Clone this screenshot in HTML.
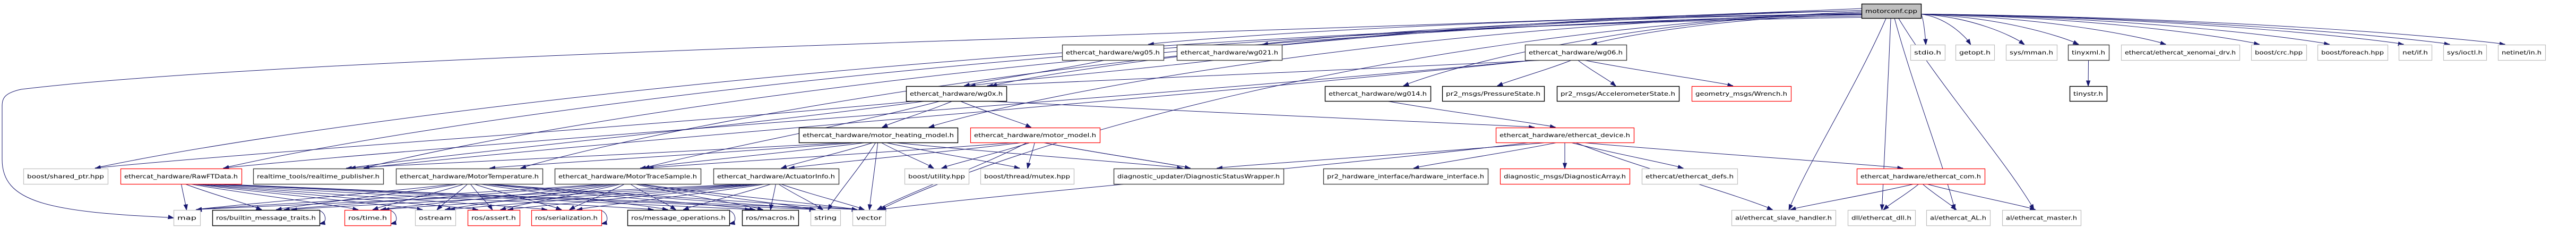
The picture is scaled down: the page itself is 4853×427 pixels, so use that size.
<!DOCTYPE html>
<html><head><meta charset="utf-8"><style>
html,body{margin:0;padding:0;background:#fff;}
svg{display:block;}
text{font-family:"DejaVu Sans","Liberation Sans",sans-serif;font-size:11px;fill:#000;}
</style></head><body>
<svg id="g" width="4853" height="427" xmlns="http://www.w3.org/2000/svg">
<g id="edges" fill="none" stroke="#191970" stroke-width="1"></g>
<g id="arrows" fill="#191970" stroke="#191970"></g>
<g id="nodes"></g>
</svg>
<script>
var R=[0,[7,34],[84,113],[162,190],[240,268],[317,346],[395,424]];
var N={
mc:[3507,3619,1,'motorconf.cpp','c'],
wg05:[2001,2192,2,'ethercat_hardware/wg05.h','d'],
wg021:[2217,2415,2,'ethercat_hardware/wg021.h','d'],
wg06:[2873,3064,2,'ethercat_hardware/wg06.h','d'],
stdio:[3599,3664,2,'stdio.h','g'],
getopt:[3684,3757,2,'getopt.h','g'],
mman:[3779,3875,2,'sys/mman.h','g'],
tinyxml:[3896,3973,2,'tinyxml.h','d'],
xeno:[3996,4219,2,'ethercat/ethercat_xenomai_drv.h','g'],
crc:[4241,4345,2,'boost/crc.hpp','g'],
foreach:[4366,4498,2,'boost/foreach.hpp','g'],
netif:[4519,4581,2,'net/if.h','g'],
ioctl:[4603,4684,2,'sys/ioctl.h','g'],
netin:[4706,4795,2,'netinet/in.h','g'],
wg0x:[1707,1896,3,'ethercat_hardware/wg0x.h','b'],
wg014:[2496,2695,3,'ethercat_hardware/wg014.h','b'],
press:[2717,2909,3,'pr2_msgs/PressureState.h','b'],
accel:[2933,3163,3,'pr2_msgs/AccelerometerState.h','b'],
wrench:[3187,3374,3,'geometry_msgs/Wrench.h','r'],
tinystr:[3899,3969,3,'tinystr.h','b'],
mhm:[1505,1804,4,'ethercat_hardware/motor_heating_model.h','b'],
mm:[1828,2072,4,'ethercat_hardware/motor_model.h','r'],
ecd:[2818,3078,4,'ethercat_hardware/ethercat_device.h','r'],
sptr:[44,203,5,'boost/shared_ptr.hpp','g'],
raw:[227,455,5,'ethercat_hardware/RawFTData.h','r'],
rtp:[477,722,5,'realtime_tools/realtime_publisher.h','d'],
mt:[746,1022,5,'ethercat_hardware/MotorTemperature.h','d'],
mts:[1045,1320,5,'ethercat_hardware/MotorTraceSample.h','d'],
ai:[1344,1580,5,'ethercat_hardware/ActuatorInfo.h','d'],
util:[1704,1825,5,'boost/utility.hpp','g'],
mutex:[1847,2023,5,'boost/thread/mutex.hpp','g'],
dsw:[2098,2418,5,'diagnostic_updater/DiagnosticStatusWrapper.h','d'],
hwi:[2493,2803,5,'pr2_hardware_interface/hardware_interface.h','d'],
da:[2826,3070,5,'diagnostic_msgs/DiagnosticArray.h','r'],
defs:[3093,3273,5,'ethercat/ethercat_defs.h','g'],
com:[3498,3739,5,'ethercat_hardware/ethercat_com.h','r'],
map:[327,377,6,'map','g'],
bmt:[400,602,6,'ros/builtin_message_traits.h','b'],
time:[649,736,6,'ros/time.h','r'],
ost:[782,858,6,'ostream','g'],
assert:[881,979,6,'ros/assert.h','r'],
ser:[1001,1133,6,'ros/serialization.h','r'],
mo:[1182,1374,6,'ros/message_operations.h','b'],
mac:[1398,1504,6,'ros/macros.h','b'],
str:[1527,1583,6,'string','g'],
vec:[1606,1668,6,'vector','g'],
slave:[3262,3458,6,'al/ethercat_slave_handler.h','g'],
dll:[3481,3608,6,'dll/ethercat_dll.h','g'],
al:[3629,3749,6,'al/ethercat_AL.h','g'],
mas:[3772,3920,6,'al/ethercat_master.h','g']
};
var E=[
['mc','wg0x'],['mc','wg05'],['mc','wg021'],['mc','wg06'],['mc','wg014'],['mc','mhm'],['mc','rtp'],['mc','raw'],['mc','sptr'],['mc','mt'],
['mc','slave'],['mc','dll'],['mc','al'],['mc','mas'],['mc','stdio'],['mc','getopt'],['mc','mman'],['mc','tinyxml'],['mc','xeno'],['mc','crc'],['mc','foreach'],['mc','netif'],['mc','ioctl'],['mc','netin'],['mc','vec'],
['wg05','wg0x'],['wg021','wg0x'],['wg06','wg0x'],['wg06','press'],['wg06','accel'],['wg06','wrench'],['wg06','raw'],['wg06','rtp'],['wg014','ecd'],
['wg0x','mhm'],['wg0x','mm'],['wg0x','ecd'],['wg0x','mts'],['wg0x','rtp'],['wg0x','sptr'],
['mhm','ai'],['mhm','mt'],['mhm','util'],['mhm','mutex'],['mhm','dsw'],['mhm','str'],['mhm','vec'],['mhm','rtp'],['mhm','mts'],
['mm','util'],['mm','mutex'],['mm','dsw'],['mm','vec'],['mm','ai'],['mm','mts'],['mm','dsw'],
['ecd','hwi'],['ecd','da'],['ecd','defs'],['ecd','com'],['ecd','slave'],['ecd','dsw'],['ecd','vec'],
['com','slave'],['com','dll'],['com','al'],['com','mas'],['tinyxml','tinystr']
];
var msgs=['raw','mt','mts','ai'],tg=['map','bmt','time','ost','assert','ser','mo','mac','str','vec'];
msgs.forEach(function(s){tg.forEach(function(t){E.push([s,t]);});});
var NS='http://www.w3.org/2000/svg';
function el(n,a,p){var e=document.createElementNS(NS,n);for(var k in a)e.setAttribute(k,a[k]);p.appendChild(e);return e;}
var eg=document.getElementById('edges'),ag=document.getElementById('arrows'),ng=document.getElementById('nodes');
function cx(n){return (N[n][0]+N[n][1])/2;}
function arrow(x,y,dx,dy){var l=Math.sqrt(dx*dx+dy*dy)||1;dx/=l;dy/=l;var bx=x-dx*10,by=y-dy*10,px=-dy*3.5,py=dx*3.5;
el('polygon',{points:x+','+y+' '+(bx+px)+','+(by+py)+' '+(bx-px)+','+(by-py)},ag);}
var li=0;
E.forEach(function(e){var s=N[e[0]],t=N[e[1]];
var sx=cx(e[0]),sy=R[s[2]][1],tx=cx(e[1]),ty=R[t[2]][0];
var w=t[1]-t[0];tx=tx+Math.max(-w*0.35,Math.min(w*0.35,(sx-tx)*0.05));
var ws=s[1]-s[0];sx=sx+Math.max(-ws*0.4,Math.min(ws*0.4,(tx-sx)*0.05));
var side=false;
if(e[0]=='mc'&&t[2]==2){sy=(sy+R[1][0])/2+6;sx=tx>sx?s[1]:s[0];side=true;}
else if(e[0]=='mc'&&tx<3300){sx=s[0];sy=20+(li++%6)*2.5;side=true;}
var dy=ty-sy,c1x,c1y,c2x,c2y;
if(side){c1x=sx+(tx-sx)*0.5;c1y=sy+dy*0.1;c2x=tx+(sx-tx)*0.12;c2y=ty-dy*0.3;}
else{c1x=sx+(tx-sx)*0.3;c1y=sy+dy*0.35;c2x=sx+(tx-sx)*0.8;c2y=ty-dy*0.25;}
el('path',{d:'M'+sx+','+sy+' C'+c1x+','+c1y+' '+c2x+','+c2y+' '+tx+','+(ty-1)},eg);
arrow(tx,ty,tx-c2x,ty-c2y);});
el('path',{d:'M3507,16 C2500,60 600,100 40,168 C8,175 4,185 4,200 L4,300 C4,380 90,398 316,409'},eg);arrow(327,410,11,2);
['bmt','time','ser','mo'].forEach(function(n){var x=N[n][1];el('path',{d:'M'+(x-4)+',395 C'+(x+14)+',398 '+(x+14)+',420 '+(x+4)+',420'},eg);arrow(x,421,-5,1);});
for(var k in N){var n=N[k],y0=R[n[2]][0],y1=R[n[2]][1];
var st=n[4]=='g'?'#bfbfbf':n[4]=='r'?'#ff0000':n[4]=='d'?'#404040':'#000';
el('rect',{x:n[0]+0.5,y:y0+0.5,width:n[1]-n[0],height:y1-y0,fill:n[4]=='c'?'#bfbfbf':'#fff',stroke:st,'stroke-width':n[4]=='d'||n[4]=='b'||n[4]=='c'?1.4:1.2},ng);
var t=el('text',{x:(n[0]+n[1])/2,y:(y0+y1)/2+4,'text-anchor':'middle',textLength:n[1]-n[0]-14,lengthAdjust:'spacingAndGlyphs'},ng);t.textContent=n[3];}
</script>
</body></html>
